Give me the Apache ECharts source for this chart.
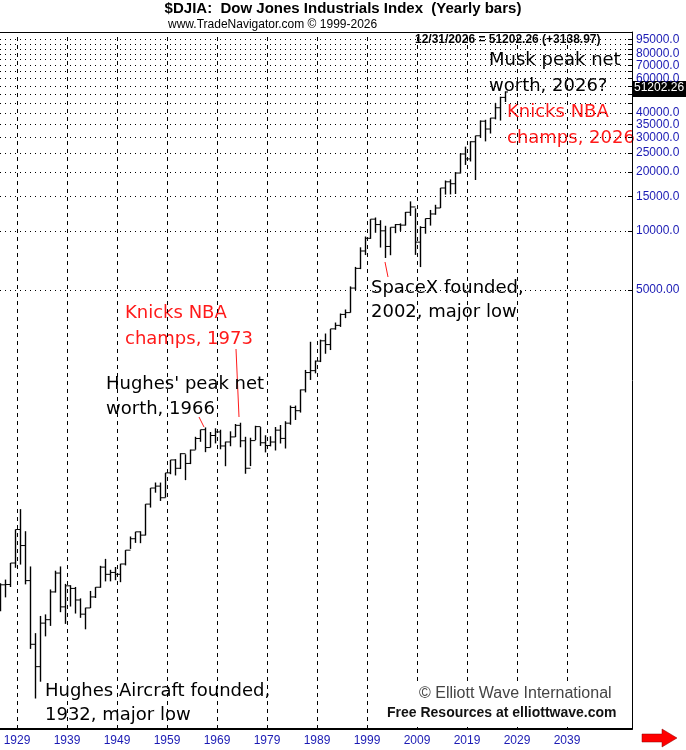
<!DOCTYPE html>
<html><head><meta charset="utf-8">
<script src="https://cdn.jsdelivr.net/npm/echarts@6/dist/echarts.min.js"></script>
<style>html,body{margin:0;padding:0;background:#fff}#c{width:686px;height:750px}</style>
</head><body><div id="c"></div>
<script>
const years=[1925,1926,1927,1928,1929,1930,1931,1932,1933,1934,1935,1936,1937,1938,1939,1940,1941,1942,1943,1944,1945,1946,1947,1948,1949,1950,1951,1952,1953,1954,1955,1956,1957,1958,1959,1960,1961,1962,1963,1964,1965,1966,1967,1968,1969,1970,1971,1972,1973,1974,1975,1976,1977,1978,1979,1980,1981,1982,1983,1984,1985,1986,1987,1988,1989,1990,1991,1992,1993,1994,1995,1996,1997,1998,1999,2000,2001,2002,2003,2004,2005,2006,2007,2008,2009,2010,2011,2012,2013,2014,2015,2016,2017,2018,2019,2020,2021,2022,2023,2024,2025,2026];
const opens=[120.5,156.7,157.2,202.4,300.0,248.5,164.6,77.9,59.9,99.9,104.0,144.1,179.9,120.9,154.8,150.2,131.1,111.0,119.4,135.9,152.3,192.9,177.2,181.2,177.3,200.1,235.4,269.2,291.9,280.9,404.4,488.4,499.5,435.7,583.7,679.4,615.9,731.1,652.1,763.0,874.1,969.3,785.7,905.1,943.8,800.4,838.9,890.2,1020.0,850.9,616.2,852.4,1004.7,831.2,805.0,838.7,964.0,875.0,1046.5,1258.6,1211.6,1546.7,1896.0,1938.8,2168.6,2753.2,2633.7,3168.8,3301.1,3754.1,3834.4,5117.1,6448.3,7908.3,9181.4,11497.1,10786.9,10021.5,8341.6,10453.9,10783.0,10717.5,12463.2,13264.8,8776.4,10428.1,11577.5,12217.6,13104.1,16576.7,17823.1,17425.0,19762.6,24719.2,23327.5,28538.4,30606.5,36338.3,33147.3,37689.5,42544.2,48063.3];
const highs=[159.4,166.6,202.4,300.0,381.2,294.1,194.4,88.8,108.7,110.7,148.4,184.9,194.4,158.4,155.9,152.8,133.6,119.7,145.8,152.5,195.8,212.5,186.9,193.2,200.5,235.5,276.4,292.0,293.8,404.4,488.4,521.1,520.8,583.7,679.4,685.5,734.9,726.0,767.2,891.7,969.3,995.2,943.1,985.2,968.9,842.0,950.8,1036.3,1051.7,891.7,881.8,1014.8,999.8,907.7,897.6,1000.2,1024.1,1070.6,1287.2,1286.6,1553.1,1955.6,2722.4,2183.5,2791.4,2999.8,3168.8,3413.2,3794.3,3978.4,5216.5,6560.9,8259.3,9374.3,11497.1,11723.0,11350.1,10635.3,10453.9,10854.5,10940.5,12510.6,14164.5,13058.2,10580.3,11585.4,12810.5,13610.2,16588.3,18103.5,18351.4,19987.6,24876.1,26951.8,28701.7,30637.5,36679.4,36952.7,37778.9,45073.6,48431.6,51600];
const lows=[115.0,135.2,152.7,191.3,198.7,157.5,73.8,41.2,50.2,85.5,96.7,143.1,113.6,99.0,121.4,111.8,106.3,92.9,119.3,134.2,151.4,163.1,163.2,165.4,161.6,196.8,238.9,256.4,255.5,279.9,388.2,462.4,419.8,436.9,574.5,566.1,610.3,535.8,646.8,766.1,840.6,744.3,786.4,825.1,769.9,631.2,798.0,889.2,788.3,577.6,632.0,858.7,800.9,742.1,796.7,759.1,824.0,776.9,1027.0,1086.6,1185.0,1502.3,1738.7,1879.1,2144.6,2365.1,2470.3,3136.6,3241.9,3593.4,3832.1,5000.0,6391.7,7539.1,9120.7,9796.0,8235.8,7286.3,7524.0,9750.0,10012.4,10667.4,11939.6,7552.3,6547.1,9686.5,10655.3,12101.5,13104.3,15340.7,15370.3,15450.6,19677.9,21712.5,22638.4,18213.7,29856.3,28660.9,31429.8,37122.9,36611.8,45500];
const closes=[156.7,157.2,202.4,300.0,248.5,164.6,77.9,59.9,99.9,104.0,144.1,179.9,120.9,154.8,150.2,131.1,111.0,119.4,135.9,152.3,192.9,177.2,181.2,177.3,200.1,235.4,269.2,291.9,280.9,404.4,488.4,499.5,435.7,583.7,679.4,615.9,731.1,652.1,763.0,874.1,969.3,785.7,905.1,943.8,800.4,838.9,890.2,1020.0,850.9,616.2,852.4,1004.7,831.2,805.0,838.7,964.0,875.0,1046.5,1258.6,1211.6,1546.7,1896.0,1938.8,2168.6,2753.2,2633.7,3168.8,3301.1,3754.1,3834.4,5117.1,6448.3,7908.3,9181.4,11497.1,10786.9,10021.5,8341.6,10453.9,10783.0,10717.5,12463.2,13264.8,8776.4,10428.1,11577.5,12217.6,13104.1,16576.7,17823.1,17425.0,19762.6,24719.2,23327.5,28538.4,30606.5,36338.3,33147.3,37689.5,42544.2,48063.3,51202.26];
const xTickYears=[1929,1939,1949,1959,1969,1979,1989,1999,2009,2019,2029,2039];
const yGridValues=[5000,10000,15000,20000,25000,30000,35000,40000,45000,50000,55000,60000,65000,70000,75000,80000,85000,90000,95000];
const yLabelValues=[5000,10000,15000,20000,25000,30000,35000,40000,60000,70000,80000,95000];
const lastValue=51202.26, lastChange=3138.97;

const bars=years.map((y,i)=>[y,opens[i],highs[i],lows[i],closes[i]]);
const GRIDX=xTickYears.map(y=>y-0.6);
const ann="'Comic Sans MS','DejaVu Sans',sans-serif";
const chart=echarts.init(document.getElementById('c'));
chart.setOption({
 animation:false,
 backgroundColor:'#fff',
 grid:{left:0,right:54,top:32,bottom:21},
 xAxis:{type:'value',min:1925,max:2051.4,
   axisLine:{show:true,onZero:false,lineStyle:{color:'#000',width:2}},
   splitLine:{show:false},
   axisTick:{show:false},
   axisLabel:{customValues:GRIDX,formatter:v=>String(Math.round(v+0.6)),color:'#1a1ab4',fontFamily:'Liberation Sans',fontSize:12,margin:6}},
 yAxis:{type:'log',position:'right',min:28.8,max:103600,
   axisLine:{show:true,lineStyle:{color:'#000',width:1}},
   splitLine:{show:false},
   axisTick:{show:true,inside:true,length:4,customValues:yGridValues,lineStyle:{color:'#000'}},
   axisLabel:{customValues:yLabelValues,formatter:v=>v>=10000?v.toFixed(1):v.toFixed(2),color:'#1a1ab4',fontFamily:'Liberation Sans',fontSize:12,margin:4}},
 series:[
  {type:'line',data:[],silent:true,
   markLine:{silent:true,symbol:'none',animation:false,label:{show:false},
     data:[...yGridValues.map(v=>({yAxis:v,lineStyle:{type:[1,4],color:'#000',width:1}})),
           ...GRIDX.map(v=>({xAxis:v,lineStyle:{type:[4,4],color:'#000',width:1}}))]}},
  {type:'custom',data:bars,clip:true,z:3,
   renderItem:(params,api)=>{
     const x=api.value(0);
     const ph=api.coord([x,api.value(2)]),pl=api.coord([x,api.value(3)]);
     const po=api.coord([x,api.value(1)]),pc=api.coord([x,api.value(4)]);
     const cx=Math.round(ph[0])+0.5;
     const st={stroke:'#000',lineWidth:1.4};
     return {type:'group',children:[
       {type:'line',shape:{x1:cx,y1:ph[1],x2:cx,y2:pl[1]},style:st},
       {type:'line',shape:{x1:cx-2.5,y1:po[1],x2:cx,y2:po[1]},style:{stroke:'#000',lineWidth:1}},
       {type:'line',shape:{x1:cx,y1:pc[1],x2:cx+2.5,y2:pc[1]},style:{stroke:'#000',lineWidth:1}}]};
   }}
 ],
 graphic:[
  {type:'line',shape:{x1:0,y1:32.5,x2:632,y2:32.5},style:{stroke:'#000',lineWidth:1}},
  {type:'text',left:'center',top:1,style:{text:'$DJIA:  Dow Jones Industrials Index  (Yearly bars)',font:'bold 15px "Liberation Sans"',fill:'#000'}},
  {type:'text',x:168,y:19,style:{text:'www.TradeNavigator.com © 1999-2026',font:'12px "Liberation Sans"',fill:'#000'}},
  {type:'text',x:415,y:34,style:{text:'12/31/2026 = '+lastValue.toFixed(2)+' (+'+lastChange.toFixed(2)+')',font:'bold 12px "Liberation Sans"',fill:'#000',backgroundColor:'#fff'}},
  {type:'rect',shape:{x:632,y:81,width:54,height:16},style:{fill:'#000'}},
  {type:'text',x:634,y:82,style:{text:lastValue.toFixed(2),font:'12px "Liberation Sans"',fill:'#fff'}},
  {type:'text',x:489,y:47,style:{text:'Musk peak net\nworth, 2026?',font:'18px '+ann,fill:'#000',lineHeight:26}},
  {type:'text',x:507,y:99,style:{text:'Knicks NBA\nchamps, 2026',font:'18px '+ann,fill:'#ff1a1a',lineHeight:26}},
  {type:'text',x:371,y:276,style:{text:'SpaceX founded,\n2002, major low',font:'18px '+ann,fill:'#000',lineHeight:24}},
  {type:'line',shape:{x1:385,y1:262,x2:388,y2:277},style:{stroke:'#ff1a1a',lineWidth:1}},
  {type:'text',x:125,y:300,style:{text:'Knicks NBA\nchamps, 1973',font:'18px '+ann,fill:'#ff1a1a',lineHeight:26}},
  {type:'line',shape:{x1:236,y1:349,x2:239,y2:417},style:{stroke:'#ff1a1a',lineWidth:1}},
  {type:'text',x:106,y:372,style:{text:"Hughes' peak net\nworth, 1966",font:'18px '+ann,fill:'#000',lineHeight:25}},
  {type:'line',shape:{x1:199,y1:417,x2:204,y2:427},style:{stroke:'#ff1a1a',lineWidth:1}},
  {type:'text',x:45,y:679,style:{text:'Hughes Aircraft founded,\n1932, major low',font:'18px '+ann,fill:'#000',lineHeight:24}},
  {type:'rect',shape:{x:386,y:684,width:245,height:43},style:{fill:'#fff'},z:10},
  {type:'text',x:419,y:686,z:11,style:{text:'© Elliott Wave International',font:'16px "Liberation Sans"',fill:'#444'}},
  {type:'text',x:387,y:706,z:11,style:{text:'Free Resources at elliottwave.com',font:'bold 14px "Liberation Sans"',fill:'#111'}},
  {type:'polygon',shape:{points:[[642,734],[662,734],[662,729],[677,738],[662,747],[662,742],[642,742]]},style:{fill:'#ff0000',stroke:'#800',lineWidth:0.5}}
 ]
});
</script></body></html>
